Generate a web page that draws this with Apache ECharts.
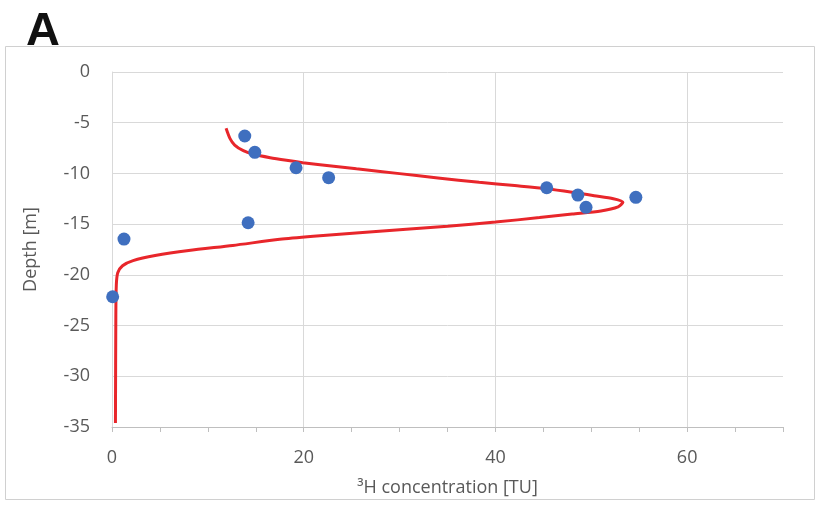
<!DOCTYPE html>
<html lang="en">
	<head>
		<meta charset="UTF-8" />
		<title>Tritium profile</title>
		<script src="https://cdn.jsdelivr.net/npm/echarts@6/dist/echarts.min.js"></script>
	</head>
	<body style="margin: 0">
		<div id="main" style="width: 819px; height: 506px"></div>
		<script type="text/javascript">
			// measured 3H concentration [TU] and depth [m]
			const sampleTU = [13.85, 14.9, 19.2, 22.6, 45.35, 48.6, 49.45, 54.65, 14.2, 1.25, 0.07];
			const sampleDepth = [-6.31, -7.92, -9.44, -10.42, -11.41, -12.13, -13.34, -12.36, -14.86, -16.47, -22.16];

			// model curve (red)
			const modelTU = [
				11.9, 12.3, 12.8, 13.7, 14.7, 16.5, 18.2, 19.9, 21.7, 25.5, 30, 34, 38.3, 42, 45.3, 48,
				50.3, 52.3, 53.3, 52.8, 51, 48, 44.6, 40, 35, 30.7, 25.8, 21, 17.5, 12.6, 8, 4.5, 2.2,
				1.1, 0.6, 0.45, 0.4, 0.36,
			];
			const modelDepth = [
				-5.55, -6.54, -7.2, -7.76, -8.09, -8.45, -8.71, -8.94, -9.14, -9.55, -10.02, -10.44,
				-10.88, -11.2, -11.5, -11.85, -12.2, -12.5, -12.85, -13.3, -13.7, -14.0, -14.35, -14.8,
				-15.2, -15.5, -15.85, -16.2, -16.5, -17.1, -17.6, -18.1, -18.6, -19.1, -19.8, -21, -24,
				-34.6,
			];

			const xLabelTicks = [0, 20, 40, 60];

			const font = "Open Sans";
			const grey = "#595959";
			const gridColor = "#d9d9d9";

			const chart = echarts.init(document.getElementById("main"));
			chart.setOption({
				animation: false,
				backgroundColor: "#fff",
				graphic: [
					{
						type: "rect",
						shape: { x: 5.5, y: 46.5, width: 809, height: 453 },
						style: { fill: "none", stroke: "#d0d0d0", lineWidth: 1 },
					},
					{
						type: "text",
						left: 26,
						top: 9,
						style: { text: "A", font: "bold 47px 'Liberation Sans'", fill: "#111" },
					},
				],
				grid: { left: 112, right: 36, top: 72, bottom: 79 },
				xAxis: [
					{
						type: "value",
						min: 0,
						max: 70,
						interval: 20,
						axisLine: { show: false },
						axisTick: { show: false },
						axisLabel: {
							fontFamily: font,
							fontSize: 18,
							color: grey,
							margin: 22,
							showMaxLabel: false,
							formatter: (v) => (xLabelTicks.includes(v) ? v : ""),
						},
						splitLine: { show: true, showMaxLine: false, lineStyle: { color: gridColor } },
						name: "³H concentration [TU]",
						nameLocation: "middle",
						nameGap: 52,
						nameTextStyle: { fontFamily: font, fontSize: 18, color: grey },
					},
					{
						type: "value",
						position: "bottom",
						min: 0,
						max: 70,
						interval: 5,
						axisLine: { show: true, onZero: false, lineStyle: { color: "#bfbfbf" } },
						axisTick: { show: true, length: 5, lineStyle: { color: "#bfbfbf" } },
						axisLabel: { show: false },
						splitLine: { show: false },
					},
				],
				yAxis: {
					type: "value",
					min: -35,
					max: 0,
					interval: 5,
					axisLine: { show: true, lineStyle: { color: gridColor } },
					axisTick: { show: false },
					axisLabel: { fontFamily: font, fontSize: 18, color: grey, margin: 22 },
					splitLine: { show: true, lineStyle: { color: gridColor } },
					name: "Depth [m]",
					nameLocation: "middle",
					nameGap: 72,
					nameTextStyle: { fontFamily: font, fontSize: 18, color: grey },
				},
				series: [
					{
						type: "line",
						data: modelTU.map((v, i) => [v, modelDepth[i]]),
						smooth: 0.25,
						showSymbol: false,
						lineStyle: { color: "#e8262b", width: 3 },
						z: 2,
					},
					{
						type: "scatter",
						data: sampleTU.map((v, i) => [v, sampleDepth[i]]),
						symbolSize: 13,
						itemStyle: { color: "#3f6fbf", opacity: 1 },
						z: 3,
					},
				],
			});
		</script>
	</body>
</html>
